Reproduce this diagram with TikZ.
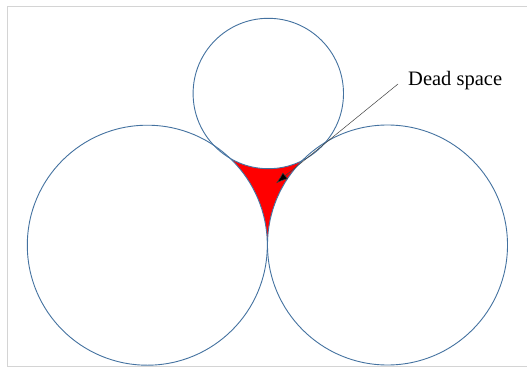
\documentclass[tikz,border=0pt]{standalone}
\usepackage{fontspec}
\setmainfont{Liberation Serif}
\usetikzlibrary{arrows.meta}
\definecolor{circ}{RGB}{68,114,160}
\definecolor{frame}{RGB}{212,212,212}
\tikzset{
  ball/.style={draw=circ, line width=0.9pt},
  leader/.style={draw=black!75, line width=0.5pt, -{Latex[length=12pt,width=8pt,fill=black]}},
  label/.style={font=\fontsize{20.5}{24}\selectfont, anchor=west, inner sep=0pt}
}
\begin{document}
\begin{tikzpicture}[x=1pt,y=-1pt]
\useasboundingbox (0,0) rectangle (527,369);
\draw[frame, line width=1pt] (527,7) -- (7,7) -- (7,366) -- (527,366);
\coordinate (cl) at (147.3,245.2);
\coordinate (cr) at (387.5,245);
\coordinate (ct) at (268.3,93.5);
% dead space
\begin{scope}
\clip (cl) -- (cr) -- (ct) -- cycle;
\fill[red] (cl) -- (cr) -- (ct) -- cycle;
\end{scope}
\fill[white] (cl) circle (120);
\fill[white] (cr) circle (120);
\fill[white] (ct) circle (75.2);
\draw[ball] (cl) circle (120);
\draw[ball] (cr) circle (120);
\draw[ball] (ct) circle (75.2);
\node[label] (ds) at (408,81) {Dead space};
\coordinate (tip) at (276,183.3);
\draw[leader] (398,84) -- (tip);
\end{tikzpicture}
\end{document}
